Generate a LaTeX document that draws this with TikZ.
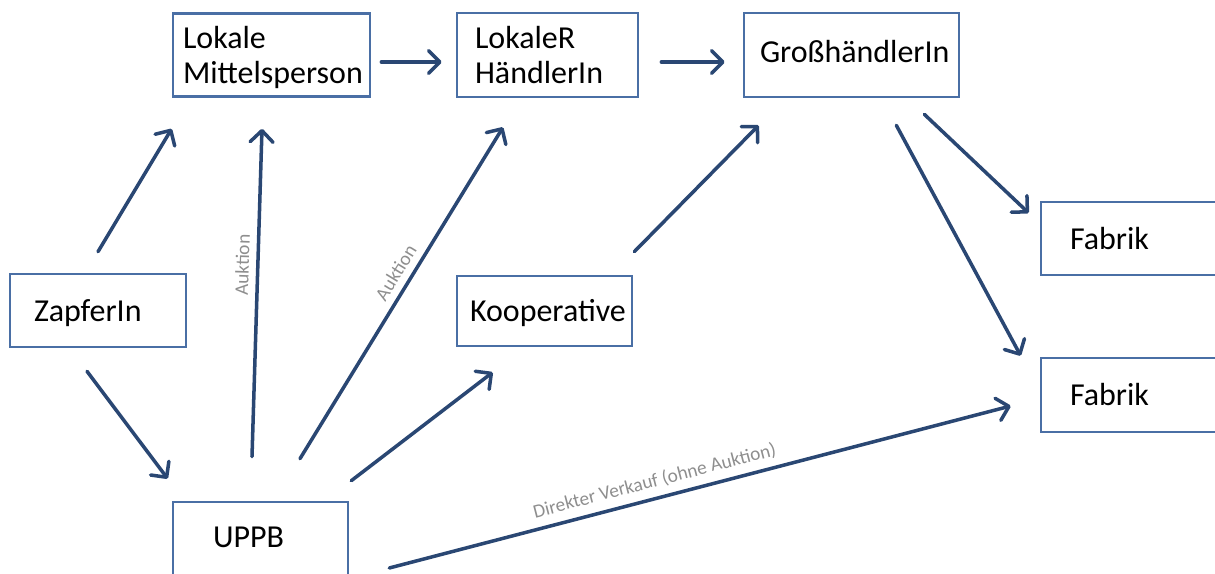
\documentclass[tikz,border=0pt]{standalone}
\usepackage{fontspec}
\setmainfont{Carlito}
\usetikzlibrary{arrows.meta}
\definecolor{boxc}{HTML}{4A6FA5}
\definecolor{arrc}{HTML}{2A4773}
\definecolor{labc}{HTML}{8E8E8E}
\newcommand\bt[4][4.5pt]{\makebox[#2][l]{\hspace{#3}\raisebox{0pt}[\dimexpr\height+#1\relax][\depth]{\begin{tabular}{@{}l@{}}#4\end{tabular}}}}
\begin{document}
\begin{tikzpicture}[x=0.02cm,y=-0.02cm,
  box/.style={draw=boxc, line width=1.5pt, rectangle, inner sep=0pt,
    font=\fontsize{18.2}{20}\selectfont},
  sz/.style 2 args={minimum width=#1*0.02cm, minimum height=#2*0.02cm},
  arr/.style={draw=arrc, line width=2pt, line cap=round,
    -{Straight Barb[length=6.5pt,width=13pt,round]}},
  lab/.style={text=labc, font=\fontsize{11}{13}\selectfont, sloped, above=2pt, inner sep=2pt}]
\useasboundingbox (0,0) rectangle (1215,574);

\node[box, sz={197}{83}] (mit) at (271.5,55) {\bt{3.94cm}{0.2cm}{Lokale\\Mittelsperson}};
\node[box, sz={181}{84}] (hae) at (547.5,55) {\bt{3.62cm}{0.36cm}{LokaleR\\HändlerIn}};
\node[box, sz={215}{84}] (gro) at (851.5,55) {\bt[0pt]{4.3cm}{0.32cm}{GroßhändlerIn}};
\node[box, sz={176}{73}] (zap) at (98,310.5) {\bt{3.52cm}{0.48cm}{ZapferIn}};
\node[box, sz={175}{70}] (koo) at (544.5,311) {\bt{3.5cm}{0.26cm}{Kooperative}};
\node[box, sz={176}{73}] (fab1) at (1129,238.5) {\bt{3.52cm}{0.58cm}{Fabrik}};
\node[box, sz={176}{74}] (fab2) at (1129,395) {\bt{3.52cm}{0.58cm}{Fabrik}};
\node[box, sz={175}{74}] (upp) at (260.5,539) {\bt[2pt]{3.5cm}{0.8cm}{UPPB}};

\draw[arr] ([shift={(10,7)}]mit.east) -- ([shift={(-14,7)}]hae.west);
\draw[arr] ([shift={(22,7)}]hae.east) -- ([shift={(-18,7)}]gro.west);
\draw[arr] ([shift={(0,-21)}]zap.north) -- ([shift={(0,31)}]mit.south west);
\draw[arr] ([shift={(-11,23)}]zap.south) -- ([shift={(-4,-22)}]upp.north west);
\draw[arr] ([shift={(-8.5,-44)}]upp.north) -- node[lab, pos=0.583]{Auktion} ([shift={(-9.5,31)}]mit.south);
\draw[arr] ([shift={(39.5,-42)}]upp.north) -- node[lab, pos=0.537]{Auktion} ([shift={(-44.5,29)}]hae.south);
\draw[arr] ([shift={(2,-20)}]upp.north east) -- ([shift={(37,25)}]koo.south west);
\draw[arr] ([shift={(1,-23)}]koo.north east) -- ([shift={(16,27)}]gro.south west);
\draw[arr] ([shift={(-36,16)}]gro.south east) -- ([shift={(-11,-25.5)}]fab1.west);
\draw[arr] ([shift={(-64,27)}]gro.south east) -- ([shift={(-19,-1)}]fab2.north west);
\draw[arr] ([shift={(40,29)}]upp.east) -- node[lab, pos=0.434]{Direkter Verkauf (ohne Auktion)} ([shift={(-29,11)}]fab2.west);
\end{tikzpicture}
\end{document}
